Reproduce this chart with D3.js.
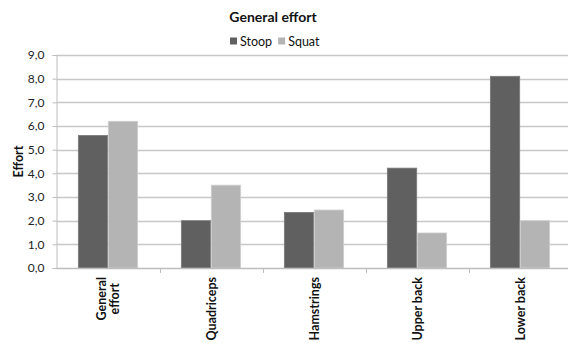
<!DOCTYPE html>
<html>
<head>
<meta charset="utf-8">
<script src="https://cdn.jsdelivr.net/npm/d3@7"></script>
<style>
  html, body { margin: 0; padding: 0; background: #fff; }
  svg { display: block; font-family: Lato, "Open Sans", sans-serif; }
</style>
</head>
<body>
<svg id="chart" width="568" height="343"></svg>
<script>
// Muscle groups and perceived effort per lifting technique
const categories = ["General effort", "Quadriceps", "Hamstrings", "Upper back", "Lower back"];
const seriesNames = ["Stoop", "Squat"];
const stoopValues = [5.6, 2.0, 2.35, 4.22, 8.1];
const squatValues = [6.2, 3.5, 2.45, 1.48, 2.0];
const yTicks = [0, 1, 2, 3, 4, 5, 6, 7, 8, 9];
const colors = ["#606060", "#b4b4b4"];

const svg = d3.select("#chart");
const margin = { left: 56.5, right: -3.5, top: 55, bottom: 75 };
const W = 568, H = 343;
const x0 = margin.left, x1 = W - margin.right;
const yTop = margin.top, yBot = H - margin.bottom;

const x = d3.scaleBand().domain(categories).range([x0, x1]).paddingInner(0).paddingOuter(0);
const xs = d3.scaleBand().domain(seriesNames).range([0, x.bandwidth()]).paddingInner(0.02).paddingOuter(0.73);
const y = d3.scaleLinear().domain([0, 9]).range([yBot, yTop]);

const fmt = v => d3.format(".1f")(v).replace(".", ",");

// gridlines
svg.append("g")
  .selectAll("line")
  .data(yTicks.filter(t => t > 0))
  .join("line")
  .attr("x1", x0).attr("x2", x1)
  .attr("y1", d => Math.round(y(d)) + 0.5).attr("y2", d => Math.round(y(d)) + 0.5)
  .attr("stroke", "#c8c8c8").attr("stroke-width", 1.3);

// y axis
const yAxis = svg.append("g")
  .attr("transform", `translate(${x0},0)`)
  .call(d3.axisLeft(y).tickValues(yTicks).tickFormat(fmt).tickSize(4).tickPadding(8));
yAxis.select(".domain").attr("stroke", "#bdbdbd");
yAxis.selectAll(".tick line").attr("stroke", "#bdbdbd");
yAxis.selectAll(".tick text").attr("font-size", 12).attr("fill", "#222")
  .attr("font-family", "Lato, sans-serif");

// bars
const rows = categories.map((c, i) => ({ cat: c, vals: [stoopValues[i], squatValues[i]] }));
const groups = svg.append("g").selectAll("g")
  .data(rows).join("g")
  .attr("transform", d => `translate(${x(d.cat)},0)`);
groups.selectAll("rect")
  .data(d => d.vals.map((v, k) => ({ key: seriesNames[k], v, k })))
  .join("rect")
  .attr("x", d => xs(d.key))
  .attr("width", xs.bandwidth())
  .attr("y", d => y(d.v))
  .attr("height", d => y(0) - y(d.v))
  .attr("fill", d => colors[d.k])
  .attr("stroke", d => d.k === 0 ? "#7a7a7a" : "#cfcfcf")
  .attr("stroke-width", 0.8);

// x axis
const xAxis = svg.append("g")
  .attr("transform", `translate(0,${yBot})`);
xAxis.append("line")
  .attr("x1", x0).attr("x2", x1).attr("y1", 0.5).attr("y2", 0.5)
  .attr("stroke", "#bdbdbd").attr("stroke-width", 1.3);
xAxis.selectAll("line.tk")
  .data(categories.slice(1))
  .join("line").attr("class", "tk")
  .attr("x1", d => Math.round(x(d)) + 0.5).attr("x2", d => Math.round(x(d)) + 0.5)
  .attr("y1", 0).attr("y2", 5)
  .attr("stroke", "#bdbdbd");

// rotated category labels, wrapped like the source ("General effort" on two lines)
const labelLines = c => c === "General effort" ? ["General", "effort"] : [c];
const labelTop = yBot + 9;
const lineGap = 13.5;
categories.forEach(c => {
  const lines = labelLines(c);
  const g = svg.append("g");
  const texts = lines.map((ln, i) => g.append("text")
    .text(ln)
    .attr("font-size", 12.5).attr("font-weight", "bold").attr("fill", "#111")
    .attr("text-anchor", "middle"));
  const maxW = d3.max(texts, t => t.node().getComputedTextLength());
  const cx = x(c) + x.bandwidth() / 2;
  const cy = labelTop + maxW / 2;
  texts.forEach((t, i) => {
    const off = (i - (lines.length - 1) / 2) * lineGap;
    const px = cx + off;
    t.attr("transform", `translate(${px + 4.5},${cy}) rotate(-90)`);
  });
});

// y axis title
svg.append("text")
  .attr("transform", `translate(23,${(yTop + yBot) / 2}) rotate(-90)`)
  .attr("text-anchor", "middle")
  .attr("font-size", 12.5).attr("font-weight", "bold").attr("fill", "#111")
  .text("Effort");

// chart title
svg.append("text")
  .attr("x", 273).attr("y", 22)
  .attr("text-anchor", "middle")
  .attr("font-size", 14).attr("font-weight", "bold").attr("fill", "#111")
  .text("General effort");

// legend
const legend = svg.append("g").attr("transform", "translate(230,41)");
let lx = 0;
seriesNames.forEach((s, i) => {
  const item = legend.append("g").attr("transform", `translate(${lx},0)`);
  item.append("rect").attr("x", 0).attr("y", -3.5).attr("width", 7).attr("height", 7).attr("fill", colors[i]);
  const t = item.append("text").attr("x", 10).attr("y", 4.5)
    .attr("font-size", 12.5).attr("fill", "#111").text(s);
  lx += 10 + t.node().getComputedTextLength() + 6;
});
</script>
</body>
</html>
